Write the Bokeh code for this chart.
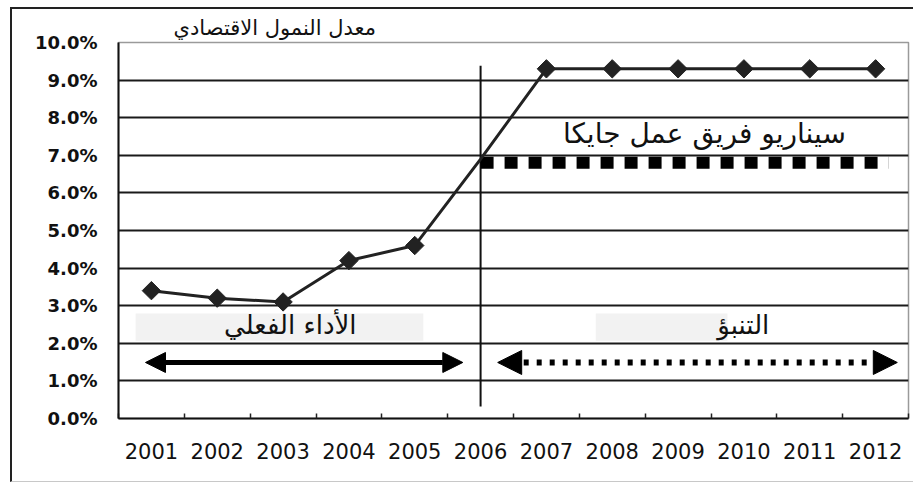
from bokeh.plotting import figure
from bokeh.models import Range1d, FixedTicker, Arrow, NormalHead, PrintfTickFormatter, Label
from bokeh.embed import file_html
from bokeh.resources import INLINE

years = ["2001", "2002", "2003", "2004", "2005", "2006",
         "2007", "2008", "2009", "2010", "2011", "2012"]
growth = [3.4, 3.2, 3.1, 4.2, 4.6, 6.9, 9.3, 9.3, 9.3, 9.3, 9.3, 9.3]
has_marker = [True, True, True, True, True, False, True, True, True, True, True, True]
jica_scenario = 6.8
y_ticks = [0, 1, 2, 3, 4, 5, 6, 7, 8, 9, 10]

title_text = "معدل النمول الاقتصادي"
scenario_text = "سيناريو فريق عمل جايكا"
actual_text = "الأداء الفعلي"
forecast_text = "التنبؤ"

xs = list(range(1, len(years) + 1))
ARABIC = "DejaVu Sans"

p = figure(width=903, height=475, x_range=Range1d(0.5, 12.5), y_range=Range1d(0, 10),
           output_backend="svg", toolbar_location=None,
           min_border_left=106, min_border_right=7, min_border_top=33, min_border_bottom=66)
p.styles = {"margin-left": "10px", "margin-top": "7px",
            "border-left": "2px solid #222", "border-top": "2px solid #222",
            "border-bottom": "1px solid #c8c8c8"}
p.background_fill_color = "white"
p.border_fill_color = "white"
p.outline_line_color = "#9a9a9a"
p.outline_line_width = 1.5

# title
p.title.text = title_text
p.title.align = "left"
p.title.offset = 55
p.title.standoff = 6
p.title.text_font = ARABIC
p.title.text_font_size = "21px"
p.title.text_font_style = "normal"
p.title.text_color = "#111"

# axes
p.xaxis.ticker = FixedTicker(ticks=xs, minor_ticks=[i + 0.5 for i in range(0, 13)])
p.xaxis.major_label_overrides = {x: y for x, y in zip(xs, years)}
p.xaxis.major_tick_line_color = None
p.xaxis.minor_tick_in = 5
p.xaxis.minor_tick_out = 0
p.xaxis.minor_tick_line_color = "#222"
p.xaxis.minor_tick_line_width = 1.5
p.xaxis.axis_line_color = "#111"
p.xaxis.axis_line_width = 2
p.xaxis.major_label_text_font = "DejaVu Sans"
p.xaxis.major_label_text_font_size = "21px"
p.xaxis.major_label_text_color = "#111"
p.xaxis.major_label_standoff = 18

p.yaxis.ticker = FixedTicker(ticks=y_ticks)
p.yaxis.formatter = PrintfTickFormatter(format="%.1f%%")
p.yaxis.major_tick_line_color = None
p.yaxis.minor_tick_line_color = None
p.yaxis.axis_line_color = "#111"
p.yaxis.axis_line_width = 2
p.yaxis.major_label_text_font = "DejaVu Sans"
p.yaxis.major_label_text_font_style = "bold"
p.yaxis.major_label_text_font_size = "18px"
p.yaxis.major_label_text_color = "#111"
p.yaxis.major_label_standoff = 15

p.xgrid.visible = False
p.ygrid.ticker = FixedTicker(ticks=y_ticks[1:-1])
p.ygrid.grid_line_color = "#1a1a1a"
p.ygrid.grid_line_width = 1.8

# gray label boxes
p.quad(left=0.76, right=5.13, bottom=2.07, top=2.79, fill_color="#f2f2f2", line_color=None)
p.quad(left=7.75, right=9.75, bottom=2.07, top=2.79, fill_color="#f2f2f2", line_color=None)

# divider between actual and forecast
p.segment(x0=6, y0=0.32, x1=6, y1=9.38, line_color="#111", line_width=2)

# JICA scenario dashed line
p.segment(x0=6, y0=jica_scenario, x1=12.2, y1=jica_scenario, line_color="black",
          line_width=12, line_dash="13 11")

# growth line
p.line(xs, growth, line_color="#222", line_width=3)
mx = [x for x, m in zip(xs, has_marker) if m]
my = [g for g, m in zip(growth, has_marker) if m]
p.scatter(mx, my, marker="square", angle=0.785398, size=13, fill_color="#222", line_color="#222")

# arrows
p.add_layout(Arrow(x_start=0.91, y_start=1.49, x_end=5.73, y_end=1.49,
                   line_width=5, line_color="black",
                   start=NormalHead(size=20, fill_color="black", line_color="black"),
                   end=NormalHead(size=20, fill_color="black", line_color="black")))
p.add_layout(Arrow(x_start=6.26, y_start=1.49, x_end=12.33, y_end=1.49,
                   line_width=6, line_color="black", line_dash="5 8",
                   start=NormalHead(size=24, fill_color="black", line_color="black"),
                   end=NormalHead(size=24, fill_color="black", line_color="black")))

# texts
p.add_layout(Label(x=9.4, y=7.58, text=scenario_text, text_font=ARABIC, text_font_size="28px",
                   text_align="center", text_baseline="middle", text_color="#111"))
p.add_layout(Label(x=3.11, y=2.5, text=actual_text, text_font=ARABIC, text_font_size="26px",
                   text_align="center", text_baseline="middle", text_color="#111"))
p.add_layout(Label(x=9.99, y=2.5, text=forecast_text, text_font=ARABIC, text_font_size="26px",
                   text_align="center", text_baseline="middle", text_color="#111"))

open("out.html", "w").write(file_html(p, INLINE))
